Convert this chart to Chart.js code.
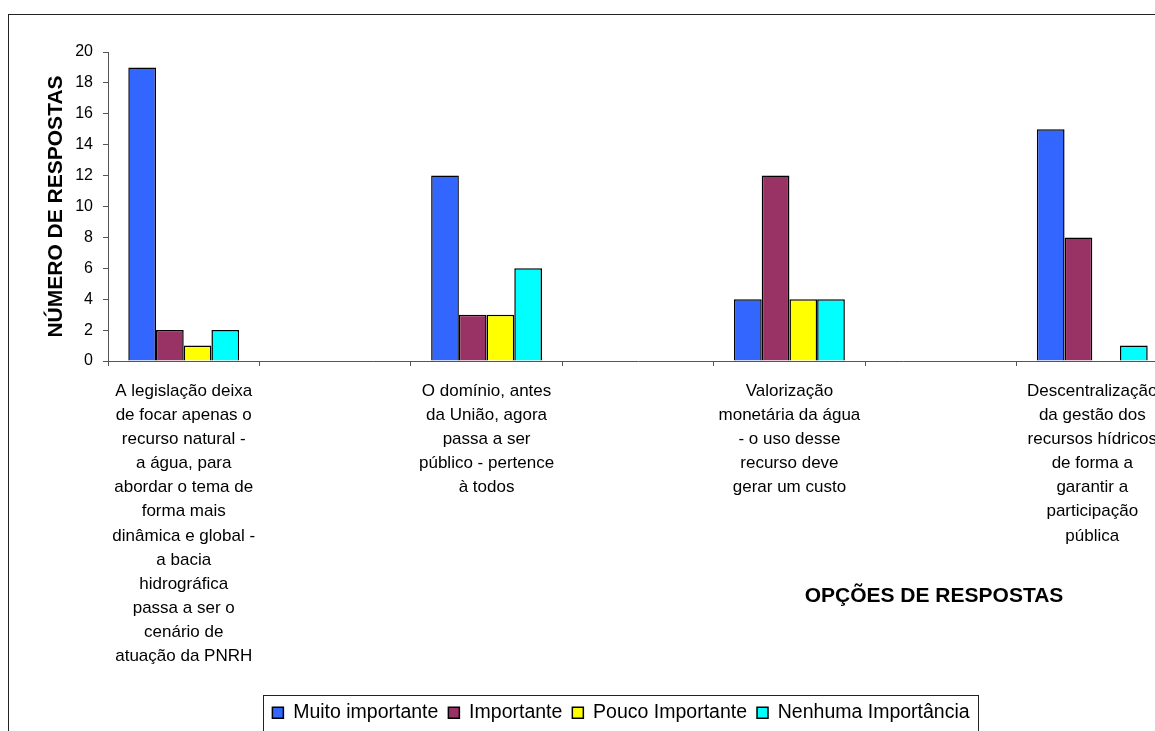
<!DOCTYPE html>
<html><head><meta charset="utf-8">
<script src="https://cdn.jsdelivr.net/npm/chart.js@4.4.1/dist/chart.umd.min.js"></script>
<style>
html,body{margin:0;padding:0;background:#fff;overflow:hidden;width:1155px;height:731px}
#wrap{position:absolute;left:0;top:0;width:1200px;height:760px}
</style>
</head><body><div id="wrap"><canvas id="c" width="1200" height="760"></canvas></div>
<script>
// ---- data ----
const categories = [
  ["A legislação deixa","de focar apenas o","recurso natural -","a água, para","abordar o tema de","forma mais","dinâmica e global -","a bacia","hidrográfica","passa a ser o","cenário de","atuação da PNRH"],
  "",
  ["O domínio, antes","da União, agora","passa a ser","público - pertence","à todos"],
  "",
  ["Valorização","monetária da água","- o uso desse","recurso deve","gerar um custo"],
  "",
  ["Descentralização","da gestão dos","recursos hídricos","de forma a","garantir a","participação","pública"]
];
const seriesNames = ["Muito importante", "Importante", "Pouco Importante", "Nenhuma Importância"];
const muitoImportante   = [19, null, 12, null, 4,  null, 15];
const importante        = [2,  null, 3,  null, 12, null, 8];
const poucoImportante   = [1,  null, 3,  null, 4,  null, 0];
const nenhumaImportancia= [2,  null, 6,  null, 4,  null, 1];
const yMin = 0, yMax = 20, yStep = 2;
const yTitle = "NÚMERO DE RESPOSTAS";
const xTitle = "OPÇÕES DE RESPOSTAS";
const seriesColors = ["#3366FF", "#993366", "#FFFF00", "#00FFFF"];

// ---- chart ----
Chart.defaults.font.family = "'Liberation Sans', Arial, sans-serif";
Chart.defaults.color = "#000";

const seriesData = [muitoImportante, importante, poucoImportante, nenhumaImportancia];

const framePlugin = {
  id: 'frame',
  beforeDraw(chart) {
    const ctx = chart.ctx;
    ctx.save();
    ctx.fillStyle = '#fff';
    ctx.fillRect(0, 0, chart.width, chart.height);
    ctx.strokeStyle = '#222';
    ctx.lineWidth = 1;
    ctx.strokeRect(8.5, 14.5, 2000, 2000);
    ctx.restore();
  },
  afterLayout(chart) {
    const lg = chart.legend;
    if (lg) { lg.left += 37; lg.right += 37; }
  },
  afterDraw(chart) {
    const ctx = chart.ctx;
    ctx.save();
    // x axis title
    ctx.font = "bold 21px 'Liberation Sans', Arial, sans-serif";
    ctx.fillStyle = '#000';
    ctx.textAlign = 'center';
    ctx.textBaseline = 'middle';
    ctx.fillText(xTitle, 934, 596);
    // legend border
    const hb = chart.legend.legendHitBoxes;
    if (hb && hb.length) {
      const x0 = hb[0].left - 9;
      const last = hb[hb.length - 1];
      const x1 = last.left + last.width + 9;
      ctx.strokeStyle = '#222';
      ctx.lineWidth = 1;
      ctx.strokeRect(Math.round(x0) + 0.5, 695.5, Math.round(x1 - x0), 60);
    }
    ctx.restore();
  }
};

new Chart(document.getElementById('c'), {
  type: 'bar',
  data: {
    labels: categories,
    datasets: seriesNames.map((n, i) => ({
      label: n,
      data: seriesData[i],
      backgroundColor: seriesColors[i],
      borderColor: '#000',
      borderWidth: 1.5,
      borderSkipped: 'start',
      categoryPercentage: 0.732,
      barPercentage: 1.0
    }))
  },
  options: {
    responsive: false,
    animation: false,
    layout: { padding: { left: 0, right: 32, top: 52, bottom: 27.5 } },
    plugins: {
      legend: {
        position: 'bottom',
        labels: {
          boxWidth: 11, boxHeight: 11, padding: 10,
          font: { size: 19.5 }, color: '#000'
        }
      },
      tooltip: { enabled: false }
    },
    scales: {
      x: {
        grid: { display: true, drawOnChartArea: false, drawTicks: true, tickLength: 5, color: '#555', offset: true },
        border: { display: true, color: '#555', width: 1 },
        ticks: { autoSkip: false, maxRotation: 0, minRotation: 0, padding: 13, color: '#000',
                 font: { size: 17, lineHeight: 1.42 } },
        afterFit(s) { s.height = 332; }
      },
      y: {
        min: yMin, max: yMax,
        grid: { display: true, drawOnChartArea: false, drawTicks: true, tickLength: 5, color: '#555' },
        border: { display: true, color: '#555', width: 1 },
        ticks: { stepSize: yStep, padding: 10, color: '#000', font: { size: 16 } },
        title: { display: true, text: yTitle, color: '#000', font: { size: 21, weight: 'bold' }, padding: { top: 44, bottom: 0 } },
        afterFit(s) { s.width = 108; }
      }
    }
  },
  plugins: [framePlugin]
});
</script>
</body></html>
